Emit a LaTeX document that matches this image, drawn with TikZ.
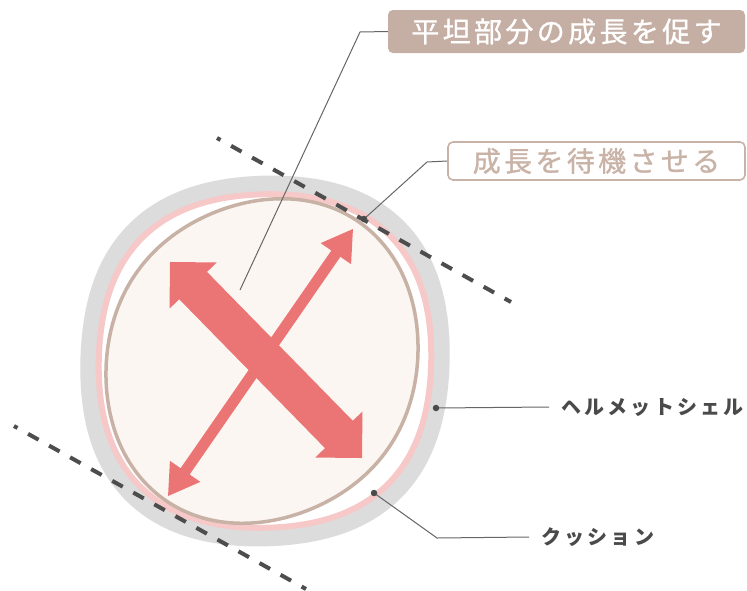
\documentclass[tikz,border=0pt]{standalone}
\usepackage{fontspec}
\newfontfamily\jpbig[LetterSpace=12,FakeBold=1]{Noto Sans CJK JP}
\newfontfamily\jpsmall[LetterSpace=16]{Noto Sans CJK JP}
\usetikzlibrary{calc}
\definecolor{shellgray}{HTML}{DCDCDC}
\definecolor{cushpink}{HTML}{F6C8C8}
\definecolor{headbrown}{HTML}{C8B2A6}
\definecolor{headfill}{HTML}{FCF6F2}
\definecolor{arrowred}{HTML}{EB7575}
\definecolor{tagfill}{HTML}{C5AEA3}
\definecolor{tagtext}{HTML}{C9B2A6}
\definecolor{dashgray}{HTML}{4D4D4D}
\definecolor{leadgray}{HTML}{666666}
\definecolor{labelgray}{HTML}{4A4A4A}
\begin{document}
\begin{tikzpicture}[x=1pt,y=-1pt,
  declare function={
    rshell(\a)=190-5*cos(4*\a)+2*cos(2*(\a-130));
    rcush(\a)=171-4.5*cos(4*\a)+1.5*cos(2*(\a-130));
    rhead(\a)=2553.6/sqrt((15.2*cos(\a-125))^2+(16.8*sin(\a-125))^2)+1.5*cos(4*(\a-125));
  },
  tangentline/.style={draw=dashgray,line width=4pt,dash pattern=on 12pt off 12.1pt,dash phase=8pt},
  leader/.style={draw=leadgray,line width=1pt},
  leaddot/.style={fill=labelgray,circle,inner sep=0pt,minimum size=6.5pt},
  tagfilled/.style={fill=tagfill,rounded corners=5pt,minimum width=357pt,minimum height=43pt,inner sep=0pt,text=white,font=\jpbig\fontsize{28}{28}\selectfont},
  tagoutline/.style={draw=tagtext,line width=1.6pt,fill=white,rounded corners=5pt,minimum width=297pt,minimum height=38pt,inner sep=0pt,text=tagtext,font=\jpbig\fontsize{28}{28}\selectfont},
  partlabel/.style={anchor=west,inner sep=0pt,text=labelgray,font=\jpsmall\bfseries\fontsize{20}{20}\selectfont}]
\useasboundingbox (0,0) rectangle (747,590);
\fill[white] (0,0) rectangle (747,590);

% helmet shell
\fill[shellgray] plot[domain=0:359,samples=360,variable=\a] ({265+rshell(\a)*cos(\a)},{361+rshell(\a)*sin(\a)}) -- cycle;

% cushion
\filldraw[draw=cushpink,fill=white,line width=6pt] plot[domain=0:359,samples=360,variable=\a] ({265+rcush(\a)*cos(\a)},{361+rcush(\a)*sin(\a)}) -- cycle;

% head
\filldraw[draw=headbrown,fill=headfill,line width=3.5pt] plot[domain=0:359,samples=360,variable=\a] ({262+rhead(\a)*cos(\a)},{361+rhead(\a)*sin(\a)}) -- cycle;

% tangent dashed lines
\coordinate (d1a) at (217,138);
\coordinate (d1b) at (511,302);
\coordinate (d2a) at (14,426);
\coordinate (d2b) at (306,589);
\draw[tangentline] (d1a) -- (d1b);
\draw[tangentline] (d2a) -- (d2b);

% labels
\node[tagfilled] (tagA) at (566.5,31.5) {平坦部分の成長を促す};
\node[tagoutline] (tagB) at (596.5,161) {成長を待機させる};
\node[partlabel] (shell) at (561,407) {ヘルメットシェル};
\node[partlabel] (cush) at (541,537) {クッション};

% leaders
\coordinate (pA) at (240,290);
\coordinate (kA) at (360,32);
\draw[leader] (pA) -- (kA) -- (tagA.west);
\coordinate (pB) at (364,219);
\coordinate (kB) at (427,162);
\draw[leader] (pB) -- (kB) -- (tagB.west);
\coordinate (pS) at (436,408);
\draw[leader] (pS) -- ([xshift=-12pt]shell.west);
\coordinate (pC) at (374,493);
\coordinate (kC) at (437,538);
\draw[leader] (pC) -- (kC) -- ([xshift=-12pt]cush.west);

% thin arrow (waiting growth)
\begin{scope}[shift={(260.5,362.5)},rotate=55.3]
\fill[arrowred] (-162.4,0) -- (-132.4,18.5) -- (-132.4,5.5) -- (132.4,5.5) -- (132.4,18.5)
 -- (162.4,0) -- (132.4,-18.5) -- (132.4,-5.5) -- (-132.4,-5.5) -- (-132.4,-18.5) -- cycle;
\end{scope}
% thick arrow (flat part growth)
\begin{scope}[shift={(266,360)},rotate=-45.6]
\fill[arrowred] (-137.2,0) -- (-104.2,33) -- (-104.2,19.5) -- (104.2,19.5) -- (104.2,33)
 -- (137.2,0) -- (104.2,-33) -- (104.2,-19.5) -- (-104.2,-19.5) -- (-104.2,-33) -- cycle;
\end{scope}

% dots
\node[leaddot] (dB) at (pB) {};
\node[leaddot] (dS) at (pS) {};
\node[leaddot] (dC) at (pC) {};
\end{tikzpicture}
\end{document}
